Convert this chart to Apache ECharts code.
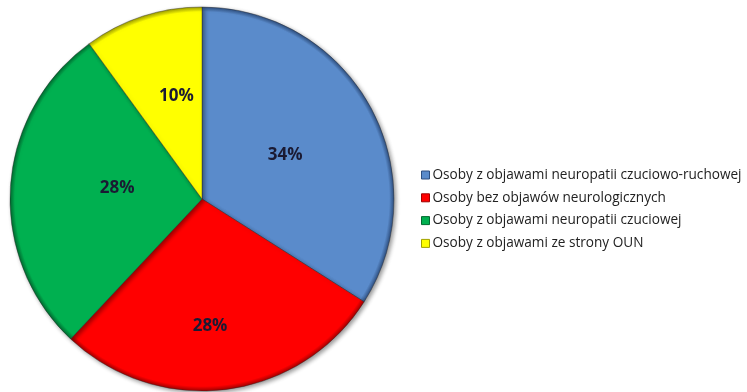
<!DOCTYPE html>
<html>
<head>
<meta charset="utf-8">
<script src="https://cdn.jsdelivr.net/npm/echarts@6/dist/echarts.min.js"></script>
<style>
  html, body { margin: 0; padding: 0; background: #fff; }
  #chart { width: 747px; height: 392px; }
</style>
</head>
<body>
<div id="chart"></div>
<script>
// Participant groups and their share (%) of the sample
const categories = [
  'Osoby z objawami neuropatii czuciowo-ruchowej',
  'Osoby bez objawów neurologicznych',
  'Osoby z objawami neuropatii czuciowej',
  'Osoby z objawami ze strony OUN'
];
const shares = [34, 28, 28, 10];
const baseColors = ['#5a8bcb', '#ff0000', '#00b050', '#ffff00'];
const rimColors = ['#2e4f80', '#a00000', '#006a30', '#a0a000'];

const center = [202, 199];
const radius = 192;

// Small nudges so each percentage sits where it reads best in its slice
const labelNudge = [[-15, 10], [-6, 16], [27, -4], [9, 4]];

// Darker rim on the pie's outer edge gives the slices a soft bevel
function sliceFill(i) {
  return {
    type: 'radial', x: center[0], y: center[1], r: radius, global: true,
    colorStops: [
      { offset: 0, color: baseColors[i] },
      { offset: 0.975, color: baseColors[i] },
      { offset: 1, color: rimColors[i] }
    ]
  };
}

const pieData = categories.map((name, i) => ({
  name,
  value: shares[i],
  itemStyle: { color: sliceFill(i) }
}));

// Invisible twin pie, used only to place the percentage labels
const labelData = categories.map((name, i) => ({
  name,
  value: shares[i],
  itemStyle: { color: 'rgba(0,0,0,0)' }
}));

const chart = echarts.init(document.getElementById('chart'), null, { renderer: 'canvas' });
chart.setOption({
  animation: false,
  backgroundColor: '#ffffff',
  legend: {
    orient: 'vertical',
    left: 416,
    top: 163,
    itemWidth: 8,
    itemHeight: 8,
    itemGap: 8.8,
    icon: 'rect',
    data: categories.map((name, i) => ({
      name,
      itemStyle: { color: baseColors[i], borderColor: rimColors[i], borderWidth: 1 }
    })),
    textStyle: {
      fontFamily: 'Open Sans',
      fontSize: 13.6,
      lineHeight: 14,
      color: '#222222',
      padding: [0, 0, 0, -2]
    },
    selectedMode: false
  },
  series: [
    {
      type: 'pie',
      center,
      radius,
      startAngle: 90,
      clockwise: true,
      silent: true,
      label: { show: false },
      labelLine: { show: false },
      itemStyle: {
        borderColor: 'rgba(40,40,40,0.5)',
        borderWidth: 0.8,
        shadowBlur: 4,
        shadowOffsetX: 2,
        shadowOffsetY: 2,
        shadowColor: 'rgba(0,0,0,0.4)'
      },
      data: pieData
    },
    {
      type: 'pie',
      center,
      radius: 218,
      startAngle: 90,
      clockwise: true,
      silent: true,
      z: 5,
      label: {
        show: true,
        position: 'inside',
        formatter: '{c}%',
        fontFamily: 'Open Sans',
        fontWeight: 'bold',
        fontSize: 17,
        color: '#1a1a33'
      },
      labelLayout: (p) => ({ dx: labelNudge[p.dataIndex][0], dy: labelNudge[p.dataIndex][1] }),
      labelLine: { show: false },
      data: labelData
    }
  ]
});
</script>
</body>
</html>
